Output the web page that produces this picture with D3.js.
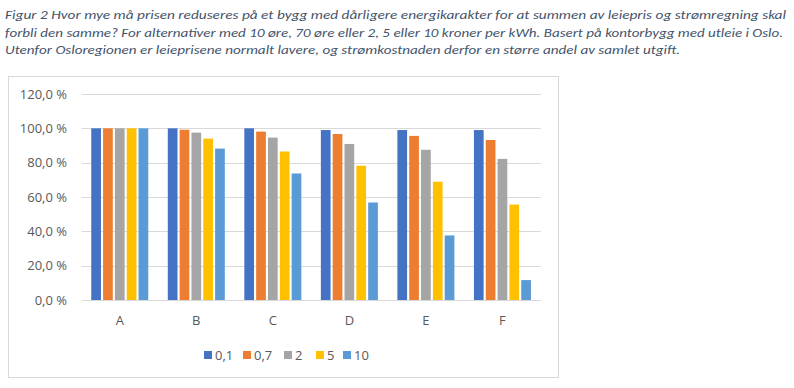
<!DOCTYPE html>
<html>
<head>
<meta charset="utf-8">
<script src="https://cdn.jsdelivr.net/npm/d3@7"></script>
<style>
  body { margin: 0; background: #fff; }
  svg { display: block; }
</style>
</head>
<body>
<svg width="794" height="388"></svg>
<script>
// data
var categories = ['A', 'B', 'C', 'D', 'E', 'F'];
var seriesNames = ['0,1', '0,7', '2', '5', '10'];
var s01 = [100, 100, 100, 99.0, 99.0, 99.0];
var s07 = [100, 99.2, 98.1, 96.7, 95.6, 93.2];
var s2 = [100, 97.5, 94.6, 90.9, 87.5, 82.2];
var s5 = [100, 94.0, 86.5, 78.2, 68.9, 55.6];
var s10 = [100, 88.2, 73.7, 56.8, 37.6, 11.6];
var yTicks = [0, 20, 40, 60, 80, 100, 120];
var captionLines = [
    'Figur 2 Hvor mye må prisen reduseres på et bygg med dårligere energikarakter for at summen av leiepris og strømregning skal',
    'forbli den samme? For alternativer med 10 øre, 70 øre eller 2, 5 eller 10 kroner per kWh. Basert på kontorbygg med utleie i Oslo.',
    'Utenfor Osloregionen er leieprisene normalt lavere, og strømkostnaden derfor en større andel av samlet utgift.'
];
var captionWidths = [781, 778, 675];

var colors = ['#4472c4', '#ed7d31', '#a5a5a5', '#ffc000', '#5b9bd5'];
var allSeries = [s01, s07, s2, s5, s10];

var svg = d3.select('svg');
var capFont = 'Calibri, Carlito, Lato, sans-serif';
var axisFont = '"Open Sans", "Noto Sans", sans-serif';

// caption
svg.selectAll('.caption')
    .data(captionLines)
    .enter().append('text')
    .attr('class', 'caption')
    .attr('x', 5)
    .attr('y', function(d, i) { return 19 + i * 17.5; })
    .attr('textLength', function(d, i) { return captionWidths[i]; })
    .attr('lengthAdjust', 'spacingAndGlyphs')
    .style('font', 'italic 13px ' + capFont)
    .style('fill', '#44546a')
    .text(function(d) { return d; });

// chart frame
svg.append('rect')
    .attr('x', 8.5).attr('y', 76.5)
    .attr('width', 550).attr('height', 301)
    .attr('fill', '#fff')
    .attr('stroke', '#d9d9d9');

var plot = { l: 81.5, r: 540.7, t: 94, b: 300 };

var x0 = d3.scaleBand().domain(categories)
    .range([plot.l, plot.r]).paddingInner(0.255).paddingOuter(0.1275);
var x1 = d3.scaleBand().domain(d3.range(seriesNames.length))
    .range([0, x0.bandwidth()]).paddingInner(0.18);
var y = d3.scaleLinear().domain([0, 120]).range([plot.b, plot.t]);

// gridlines
svg.append('g')
    .selectAll('line')
    .data(yTicks)
    .enter().append('line')
    .attr('x1', plot.l).attr('x2', plot.r)
    .attr('y1', function(d) { return Math.round(y(d)) + 0.5; })
    .attr('y2', function(d) { return Math.round(y(d)) + 0.5; })
    .attr('stroke', '#d9d9d9')
    .attr('stroke-width', 1);

// y tick labels
svg.append('g')
    .selectAll('text')
    .data(yTicks)
    .enter().append('text')
    .attr('x', 67)
    .attr('y', function(d) { return y(d) + 4.5; })
    .attr('text-anchor', 'end')
    .style('font', '13px ' + axisFont)
    .style('fill', '#595959')
    .text(function(d) { return d3.format('.1f')(d).replace('.', ',') + ' %'; });

// bars
var groups = svg.append('g')
    .selectAll('g')
    .data(categories)
    .enter().append('g')
    .attr('transform', function(d) { return 'translate(' + x0(d) + ',0)'; });

groups.selectAll('rect')
    .data(function(d, ci) {
        return allSeries.map(function(s, si) { return { si: si, v: s[ci] }; });
    })
    .enter().append('rect')
    .attr('x', function(d) { return x1(d.si); })
    .attr('y', function(d) { return y(d.v); })
    .attr('width', x1.bandwidth())
    .attr('height', function(d) { return y(0) - y(d.v); })
    .attr('fill', function(d) { return colors[d.si]; });

// category labels
svg.append('g')
    .selectAll('text')
    .data(categories)
    .enter().append('text')
    .attr('x', function(d) { return x0(d) + x0.bandwidth() / 2; })
    .attr('y', 325)
    .attr('text-anchor', 'middle')
    .style('font', '13px ' + axisFont)
    .style('fill', '#595959')
    .text(function(d) { return d; });

// legend
var legendX = [204, 243, 284, 316, 343];
var legend = svg.append('g')
    .selectAll('g')
    .data(seriesNames)
    .enter().append('g')
    .attr('transform', function(d, i) { return 'translate(' + legendX[i] + ',351)'; });

legend.append('rect')
    .attr('width', 8).attr('height', 8)
    .attr('fill', function(d, i) { return colors[i]; });

legend.append('text')
    .attr('x', 11)
    .attr('y', 8.5)
    .style('font', '13px ' + axisFont)
    .style('fill', '#595959')
    .text(function(d) { return d; });
</script>
</body>
</html>
